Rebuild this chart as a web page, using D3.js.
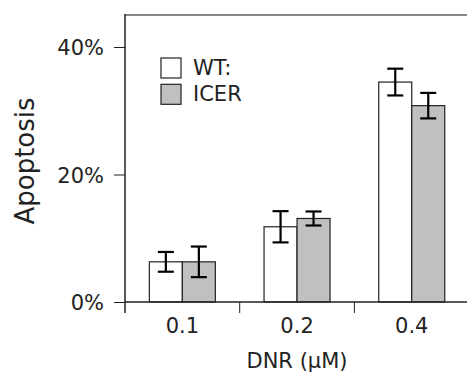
<!DOCTYPE html>
<html>
<head>
<meta charset="utf-8">
<script src="https://cdn.jsdelivr.net/npm/d3@7"></script>
<style>
  body { margin: 0; background: #fff; }
  text { font-family: "DejaVu Sans", sans-serif; fill: #222; }
</style>
</head>
<body>
<div class="graphic"></div>
<script>
const doses = ['0.1', '0.2', '0.4'];
const series = ['WT:', 'ICER'];
const wtValues = [6.3, 11.8, 34.5];
const wtErrors = [1.55, 2.45, 2.1];
const icerValues = [6.3, 13.1, 30.8];
const icerErrors = [2.4, 1.1, 2.0];
const yTicks = [0, 20, 40];
const fills = ['#ffffff', '#c0c0c0'];

const width = 467, height = 374;
const margin = {top: 15, right: 0, bottom: 72, left: 125};

const svg = d3.select('.graphic').append('svg')
  .attr('width', width)
  .attr('height', height);

const x = d3.scaleBand()
  .domain(doses)
  .range([margin.left, margin.left + 3 * 114.7]);

const xInner = d3.scaleBand()
  .domain(series)
  .range([0, 66])
  .padding(0);

const y = d3.scaleLinear()
  .domain([0, 20])
  .range([302, 174.5]);

// top border
svg.append('line')
  .attr('x1', margin.left).attr('x2', width)
  .attr('y1', margin.top).attr('y2', margin.top)
  .style('stroke', '#888').style('stroke-width', 2);

const rows = doses.map((d, i) => ({
  dose: d,
  bars: [
    {s: series[0], v: wtValues[i], e: wtErrors[i]},
    {s: series[1], v: icerValues[i], e: icerErrors[i]}
  ]
}));

const groups = svg.selectAll('g.grp')
  .data(rows)
  .enter().append('g')
  .attr('class', 'grp')
  .attr('transform', d => 'translate(' + (x(d.dose) + x.bandwidth() / 2 - 33) + ',0)');

groups.selectAll('rect')
  .data(d => d.bars)
  .enter().append('rect')
  .attr('x', d => xInner(d.s))
  .attr('y', d => y(d.v))
  .attr('width', xInner.bandwidth())
  .attr('height', d => y(0) - y(d.v))
  .style('fill', (d, i) => fills[i])
  .style('stroke', '#222')
  .style('stroke-width', 1.2);

const err = groups.selectAll('g.err')
  .data(d => d.bars)
  .enter().append('g')
  .attr('class', 'err')
  .attr('transform', d => 'translate(' + (xInner(d.s) + xInner.bandwidth() / 2) + ',0)');

err.append('line')
  .attr('x1', 0).attr('x2', 0)
  .attr('y1', d => y(d.v - d.e)).attr('y2', d => y(d.v + d.e))
  .style('stroke', '#000').style('stroke-width', 2.2);
err.append('line')
  .attr('x1', -8).attr('x2', 8)
  .attr('y1', d => y(d.v - d.e)).attr('y2', d => y(d.v - d.e))
  .style('stroke', '#000').style('stroke-width', 2.2);
err.append('line')
  .attr('x1', -8).attr('x2', 8)
  .attr('y1', d => y(d.v + d.e)).attr('y2', d => y(d.v + d.e))
  .style('stroke', '#000').style('stroke-width', 2.2);

// y axis
const yAxis = svg.append('g')
  .attr('transform', 'translate(' + margin.left + ',0)')
  .call(d3.axisLeft(y).tickValues(yTicks).tickSize(11).tickPadding(10).tickFormat(d => d + '%'));
yAxis.select('.domain').remove();
yAxis.selectAll('text').style('font-size', '21px').attr('dy', '0.36em');
yAxis.selectAll('line').style('stroke', '#222');
svg.append('line')
  .attr('x1', margin.left).attr('x2', margin.left)
  .attr('y1', margin.top - 1).attr('y2', 313)
  .style('stroke', '#222').style('stroke-width', 1.5);

// x axis
const xAxis = svg.append('g')
  .attr('transform', 'translate(0,302)')
  .call(d3.axisBottom(x).tickSize(0).tickPadding(16));
xAxis.select('.domain').remove();
xAxis.selectAll('text').style('font-size', '21px');
svg.append('line')
  .attr('x1', margin.left).attr('x2', width)
  .attr('y1', 302).attr('y2', 302)
  .style('stroke', '#222').style('stroke-width', 1.5);
svg.selectAll('line.sep')
  .data(doses.slice(1))
  .enter().append('line')
  .attr('class', 'sep')
  .attr('x1', d => x(d)).attr('x2', d => x(d))
  .attr('y1', 302).attr('y2', 313)
  .style('stroke', '#222').style('stroke-width', 1);

// titles
svg.append('text')
  .attr('transform', 'translate(34,161) rotate(-90)')
  .attr('text-anchor', 'middle')
  .style('font-size', '26px')
  .text('Apoptosis');
svg.append('text')
  .attr('x', 297).attr('y', 368)
  .attr('text-anchor', 'middle')
  .style('font-size', '21px')
  .text('DNR (µM)');

// legend
const legend = svg.selectAll('g.legend')
  .data(series)
  .enter().append('g')
  .attr('class', 'legend')
  .attr('transform', (d, i) => 'translate(161,' + (58 + i * 26.3) + ')');
legend.append('rect')
  .attr('width', 20).attr('height', 20)
  .style('fill', (d, i) => fills[i])
  .style('stroke', '#222')
  .style('stroke-width', 1.2);
legend.append('text')
  .attr('x', 32).attr('y', 17)
  .style('font-size', '21px')
  .text(d => d);
</script>
</body>
</html>
